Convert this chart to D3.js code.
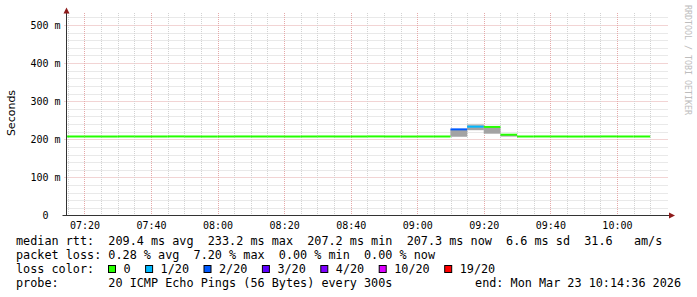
<!DOCTYPE html>
<meta charset="utf-8">
<style>
    body { margin: 0; background: #fff; }
    svg { display: block; }
    .mono { font-family: 'DejaVu Sans Mono', monospace; white-space: pre; }
</style>
<svg width="697" height="297"></svg>
<script src="https://d3js.org/d3.v7.min.js"></script>
<script>

    // 5 minute rrd steps (start of each step)
    const intervalStarts = ["07:10", "07:15", "07:20", "07:25", "07:30", "07:35", "07:40", "07:45", "07:50", "07:55",
        "08:00", "08:05", "08:10", "08:15", "08:20", "08:25", "08:30", "08:35", "08:40", "08:45",
        "08:50", "08:55", "09:00", "09:05", "09:10", "09:15", "09:20", "09:25", "09:30", "09:35",
        "09:40", "09:45", "09:50", "09:55", "10:00", "10:05"];
    const medianRtt = [207.4, 207.3, 207.3, 207.2, 207.4, 207.3, 207.3, 207.5, 207.3, 207.2,
        207.3, 207.4, 207.3, 207.3, 207.2, 207.3, 207.4, 207.3, 207.3, 207.5,
        207.3, 207.2, 207.3, 207.3, 226.0, 233.2, 232.4, 212.0, 207.3, 207.4,
        207.3, 207.2, 207.3, 207.4, 207.3, 207.3];
    const lossCount = [0, 0, 0, 0, 0, 0, 0, 0, 0, 0,
        0, 0, 0, 0, 0, 0, 0, 0, 0, 0,
        0, 0, 0, 0, 2, 1, 0, 0, 0, 0,
        0, 0, 0, 0, 0, 0];
    // smoke: outer range (light) and inner range (dark)
    const smokeMin = [206.9, 206.8, 206.9, 206.8, 206.9, 206.9, 206.8, 207.0, 206.9, 206.8,
        206.9, 206.9, 206.8, 206.9, 206.8, 206.9, 206.9, 206.8, 206.9, 207.0,
        206.9, 206.8, 206.9, 206.9, 206.8, 224.0, 215.0, 207.5, 206.9, 206.9,
        206.8, 206.8, 206.9, 206.9, 206.8, 206.9];
    const smokeQ1 = [207.1, 207.0, 207.1, 207.0, 207.1, 207.1, 207.0, 207.2, 207.1, 207.0,
        207.1, 207.1, 207.0, 207.1, 207.0, 207.1, 207.1, 207.0, 207.1, 207.2,
        207.1, 207.0, 207.1, 207.1, 207.0, 224.0, 215.0, 207.5, 207.1, 207.1,
        207.0, 207.0, 207.1, 207.1, 207.0, 207.1];
    const smokeQ3 = [207.7, 207.6, 207.6, 207.5, 207.7, 207.6, 207.6, 207.8, 207.6, 207.5,
        207.6, 207.7, 207.6, 207.6, 207.5, 207.6, 207.7, 207.6, 207.6, 207.8,
        207.6, 207.5, 207.6, 207.6, 226.0, 236.0, 232.4, 212.0, 207.6, 207.7,
        207.6, 207.5, 207.6, 207.7, 207.6, 207.6];
    const smokeMax = [207.9, 207.8, 207.8, 207.7, 207.9, 207.8, 207.8, 208.0, 207.8, 207.7,
        207.8, 207.9, 207.8, 207.8, 207.7, 207.8, 207.9, 207.8, 207.8, 208.0,
        207.8, 207.7, 207.8, 207.8, 226.0, 240.5, 232.4, 212.0, 207.8, 207.9,
        207.8, 207.7, 207.8, 207.9, 207.8, 207.8];

    const timeStart = "07:14:36", timeEnd = "10:14:36";
    const yMax = 530;
    const yMajorTicks = [0, 100, 200, 300, 400, 500];
    const yTickLabels = ["0  ", "100 m", "200 m", "300 m", "400 m", "500 m"];

    const lossLevels = [0, 1, 2, 3, 4, 10, 19];
    const lossLabels = ["0", "1/20", "2/20", "3/20", "4/20", "10/20", "19/20"];
    const lossColors = ["#26ff00", "#00b8ff", "#0059ff", "#5e00ff", "#7e00ff", "#dd00ff", "#ff0000"];

    const statLines = [
        "median rtt:  209.4 ms avg  233.2 ms max  207.2 ms min  207.3 ms now  6.6 ms sd  31.6   am/s",
        "packet loss: 0.28 % avg  7.20 % max  0.00 % min  0.00 % now"
    ];
    const probeText = "probe:       20 ICMP Echo Pings (56 Bytes) every 300s";
    const endText = "end: Mon Mar 23 10:14:36 2026";

    var svg = d3.select("svg");
    svg.append("rect").attr("width", 697).attr("height", 297).attr("fill", "#fff");

    const parseHM = d3.timeParse("%Y-%m-%d %H:%M");
    const parseHMS = d3.timeParse("%Y-%m-%d %H:%M:%S");
    const day = "2026-03-23 ";
    const t0 = parseHMS(day + timeStart), t1 = parseHMS(day + timeEnd);

    var x = d3.scaleTime().domain([t0, t1]).range([66.5, 665.5]);
    var y = d3.scaleLinear().domain([0, yMax]).range([215.5, 13.5]);
    const plotTop = 13, plotBottom = 215.5, plotLeft = 66.5, plotRight = 668;

    const defs = svg.append("defs");
    defs.append("clipPath").attr("id", "plot").append("rect")
        .attr("x", plotLeft).attr("y", 0).attr("width", plotRight - plotLeft).attr("height", plotBottom);

    // grid
    var grid = svg.append("g").attr("stroke-width", 1).attr("stroke-dasharray", "1,1").attr("fill", "none");
    y.ticks(26).forEach(function (v) {
        var major = yMajorTicks.indexOf(v) >= 0;
        var py = Math.round(y(v)) + 0.5;
        if (v === 0) return;
        grid.append("line")
            .attr("x1", major ? plotLeft - 2 : plotLeft).attr("x2", plotRight)
            .attr("y1", py).attr("y2", py)
            .attr("stroke", major ? "#e5a9a9" : "#d2d2d2");
    });
    x.ticks(d3.timeMinute.every(5)).forEach(function (t) {
        var major = t.getMinutes() % 20 === 0;
        var px = Math.round(x(t)) + 0.5;
        if (px < plotLeft + 1) return;
        grid.append("line")
            .attr("x1", px).attr("x2", px)
            .attr("y1", plotTop).attr("y2", plotBottom)
            .attr("stroke", major ? "#e5a9a9" : "#d2d2d2");
    });

    // data
    var rows = intervalStarts.map(function (s, i) {
        var a = parseHM(day + s);
        return {
            a: a, b: d3.timeMinute.offset(a, 5), med: medianRtt[i], loss: lossCount[i],
            min: smokeMin[i], q1: smokeQ1[i], q3: smokeQ3[i], max: smokeMax[i]
        };
    });
    function lossColor(n) {
        var c = lossColors[0];
        lossLevels.forEach(function (l, i) { if (n >= l) c = lossColors[i]; });
        return c;
    }

    var plot = svg.append("g").attr("clip-path", "url(#plot)");
    plot.selectAll("rect.outer").data(rows).enter().append("rect")
        .attr("class", "outer")
        .attr("x", function (d) { return x(d.a); })
        .attr("width", function (d) { return x(d.b) - x(d.a); })
        .attr("y", function (d) { return y(d.max); })
        .attr("height", function (d) { return y(d.min) - y(d.max); })
        .attr("fill", "#c9c9c9");
    plot.selectAll("rect.inner").data(rows).enter().append("rect")
        .attr("class", "inner")
        .attr("x", function (d) { return x(d.a); })
        .attr("width", function (d) { return x(d.b) - x(d.a); })
        .attr("y", function (d) { return y(d.q3); })
        .attr("height", function (d) { return y(d.q1) - y(d.q3); })
        .attr("fill", "#a3a3a3");
    plot.selectAll("rect.med").data(rows).enter().append("rect")
        .attr("class", "med")
        .attr("x", function (d) { return x(d.a); })
        .attr("width", function (d) { return x(d.b) - x(d.a); })
        .attr("y", function (d) { return y(d.med) - 1; })
        .attr("height", 2)
        .attr("fill", function (d) { return lossColor(d.loss); });

    // axes labels
    var yAxis = svg.append("g").attr("transform", "translate(" + plotLeft + ",0)")
        .call(d3.axisLeft(y).tickValues(yMajorTicks).tickSize(0).tickPadding(6)
            .tickFormat(function (v, i) { return yTickLabels[i]; }));
    var xAxis = svg.append("g").attr("transform", "translate(0," + plotBottom + ")")
        .call(d3.axisBottom(x).ticks(d3.timeMinute.every(20)).tickSize(0).tickPadding(6)
            .tickFormat(d3.timeFormat("%H:%M")));
    [yAxis, xAxis].forEach(function (g) {
        g.select(".domain").remove();
        g.attr("font-family", null).attr("font-size", null);
        g.selectAll("text").attr("class", "mono").attr("xml:space", "preserve")
            .style("font-size", "10px").attr("fill", "#000");
    });

    // axis lines and arrows
    svg.append("line").attr("x1", plotLeft).attr("x2", plotLeft).attr("y1", plotBottom + 0.5).attr("y2", plotTop)
        .attr("stroke", "#333");
    svg.append("line").attr("x1", 62.5).attr("x2", 669).attr("y1", plotBottom).attr("y2", plotBottom)
        .attr("stroke", "#333");
    svg.append("path").attr("d", "M63.5,13.5 L69.5,13.5 L66.5,7.5 Z").attr("fill", "#8e1b1b");
    svg.append("path").attr("d", "M669,212.5 L669,218.5 L675,215.5 Z").attr("fill", "#8e1b1b");

    svg.append("text").attr("transform", "translate(15,113) rotate(-90)")
        .attr("text-anchor", "middle")
        .style("font-family", "'DejaVu Sans', sans-serif").style("font-size", "11px")
        .text("Seconds");

    svg.append("text").attr("class", "mono").attr("transform", "translate(685,5) rotate(90)")
        .style("font-size", "8.3px").attr("fill", "#bdbdbd")
        .text("RRDTOOL / TOBI OETIKER");

    // legend
    var legend = svg.append("g").attr("class", "mono").style("font-size", "11.8px").attr("fill", "#000");
    function legendText(tx, ty, s) {
        return legend.append("text").attr("xml:space", "preserve").attr("x", tx).attr("y", ty).text(s);
    }
    statLines.forEach(function (s, i) {
        legendText(16, 245 + i * 14, s);
    });
    legendText(16, 273, "loss color:");
    var lx = 108.5;
    lossLabels.forEach(function (lab, i) {
        legend.append("rect").attr("x", lx).attr("y", 265.5).attr("width", 7).attr("height", 7)
            .attr("fill", lossColors[i]).attr("stroke", "#000");
        legendText(lx + 15, 273, lab);
        lx += 15 + lab.length * 7.1 + 15;
    });
    legendText(16, 287, probeText);
    legendText(681, 287, endText).attr("text-anchor", "end");

</script>
